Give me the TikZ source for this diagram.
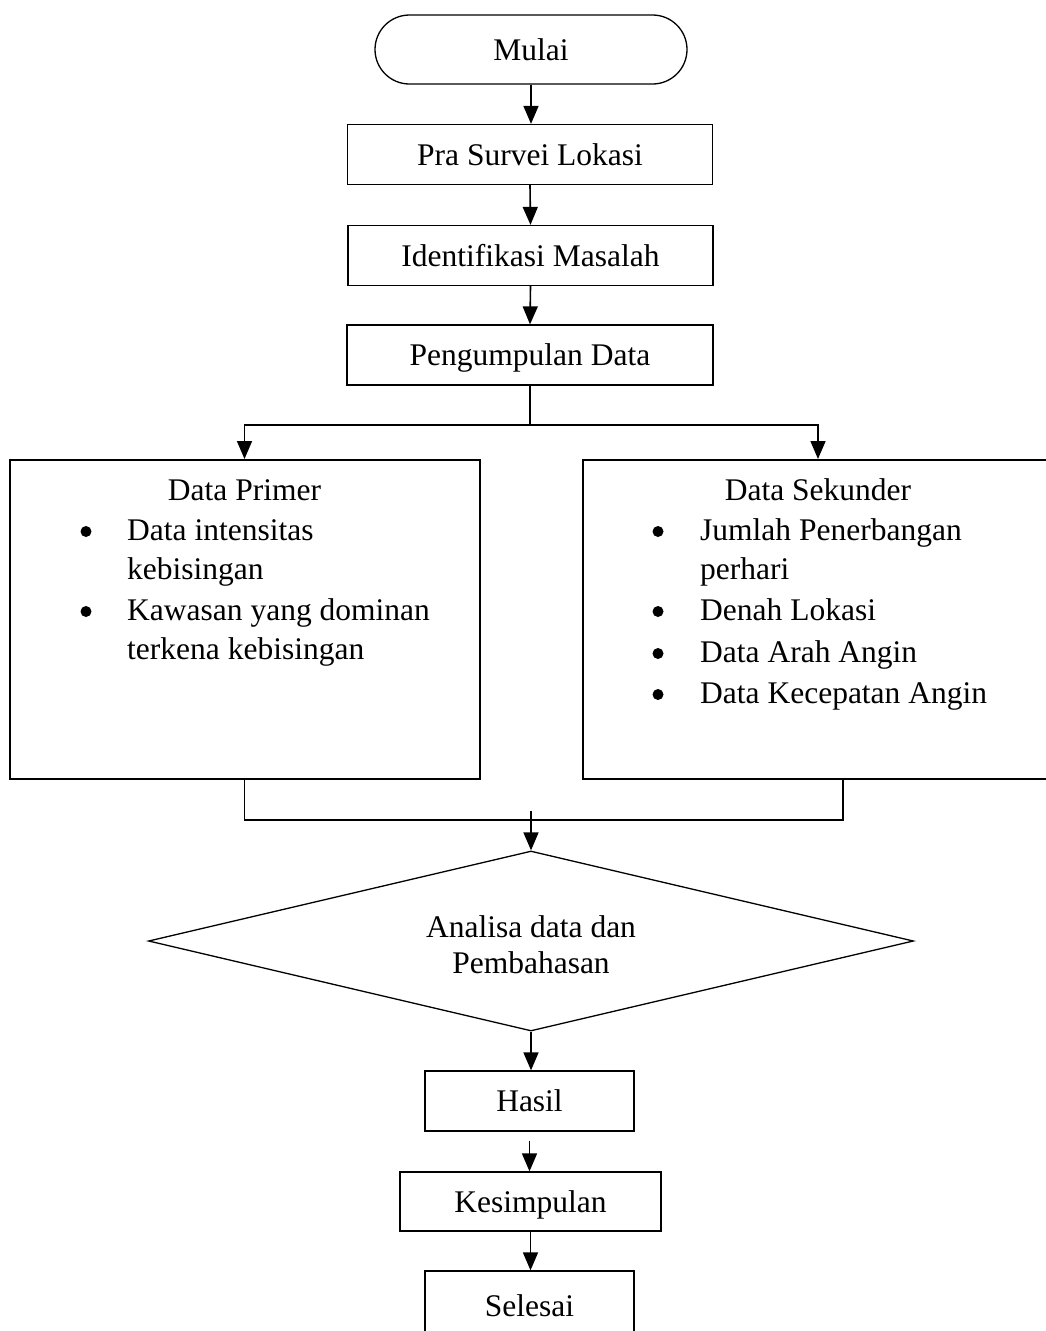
\documentclass[tikz,border=0pt]{standalone}
\usepackage{fontspec}
\setmainfont{Liberation Serif}
\usetikzlibrary{arrows.meta,shapes.geometric,shapes.misc}
\begin{document}
\begin{tikzpicture}[x=1pt,y=-1pt,
  every node/.style={font=\fontsize{31.5}{40}\selectfont},
  proc/.style={draw,line width=1.3pt,inner sep=0pt,text height=21pt,text depth=0pt,minimum height=60pt},
  bigbox/.style={draw,line width=2pt,inner sep=0pt,minimum width=470pt,minimum height=319pt},
  term/.style={draw,line width=1.3pt,rounded rectangle,inner sep=0pt,text height=21pt,text depth=0pt,minimum width=312pt,minimum height=69pt},
  dec/.style={draw,line width=1.3pt,diamond,aspect=4.25,inner sep=0pt,minimum width=765pt,minimum height=180pt},
  txt/.style={anchor=base west,inner sep=0pt},
  ctxt/.style={anchor=base,inner sep=0pt},
  bul/.style={circle,fill,inner sep=0pt,minimum size=11pt},
  conn/.style={line width=1.6pt},
  arr/.style={conn,-{Triangle[length=18pt,width=15pt]}}]
\useasboundingbox (0,0) rectangle (1045,1331);
% main column
\node[term] (mulai) at (531,49.5) {Mulai};
\node[proc,minimum width=365pt] (pra) at (530,154.5) {Pra Survei Lokasi};
\node[proc,minimum width=365pt] (ident) at (530.5,255.5) {Identifikasi Masalah};
\node[proc,minimum width=366pt] (peng) at (530,355) {Pengumpulan Data};
% data boxes
\node[bigbox] (prim) at (244.5,619.5) {};
\node[bigbox] (sek) at (818,619.5) {};
% primer text
\node[ctxt] (primt) at (244.5,500) {Data Primer};
\node[bul] (pb1) at (86,531.5) {};
\node[txt] (p1a) at (127,540) {Data intensitas};
\node[txt] (p1b) at (127,579) {kebisingan};
\node[bul] (pb2) at (86,611.5) {};
\node[txt] (p2a) at (127,620) {Kawasan yang dominan};
\node[txt] (p2b) at (127,659) {terkena kebisingan};
% sekunder text
\node[ctxt] (sekt) at (818,500) {Data Sekunder};
\node[bul] (sb1) at (658,531.5) {};
\node[txt] (s1a) at (700,540) {Jumlah Penerbangan};
\node[txt] (s1b) at (700,579) {perhari};
\node[bul] (sb2) at (658,611.5) {};
\node[txt] (s2) at (700,620) {Denah Lokasi};
\node[bul] (sb3) at (658,653.5) {};
\node[txt] (s3) at (700,662) {Data Arah Angin};
\node[bul] (sb4) at (658,694.5) {};
\node[txt] (s4) at (700,703) {Data Kecepatan Angin};
% decision
\node[dec] (ana) at (531,941) {};
\node[ctxt] (anat1) at (531,937) {Analisa data dan};
\node[ctxt] (anat2) at (531,973) {Pembahasan};
% bottom column
\node[proc,minimum width=209pt] (hasil) at (529.5,1101) {Hasil};
\node[proc,minimum width=261pt,minimum height=59pt] (kes) at (530.5,1201.5) {Kesimpulan};
\node[proc,minimum width=209pt,minimum height=70pt] (sel) at (529.5,1306) {Selesai};
% connectors
\draw[arr] (mulai.south) -- (mulai.south |- pra.north);
\draw[arr] (pra.south) -- (ident.north);
\draw[arr] (ident.south) -- (peng.north);
\coordinate (split) at (530,425);
\draw[conn] (peng.south) -- (split);
\draw[arr] (split) -| (prim.north);
\draw[arr] (split) -| (sek.north);
\coordinate (sekout) at (843,779);
\coordinate (mergeL) at (244.5,820);
\coordinate (mergeR) at (843,820);
\draw[conn] (prim.south) -- (mergeL) -- (mergeR) -- (sekout);
\coordinate (mtop) at (531,811);
\draw[arr] (mtop) -- (ana.north);
\draw[arr] (ana.south) -- (ana.south |- hasil.north);
\draw[arr,shorten <=9pt] (hasil.south) -- (hasil.south |- kes.north);
\draw[arr] (kes.south) -- (kes.south |- sel.north);
\end{tikzpicture}
\end{document}
